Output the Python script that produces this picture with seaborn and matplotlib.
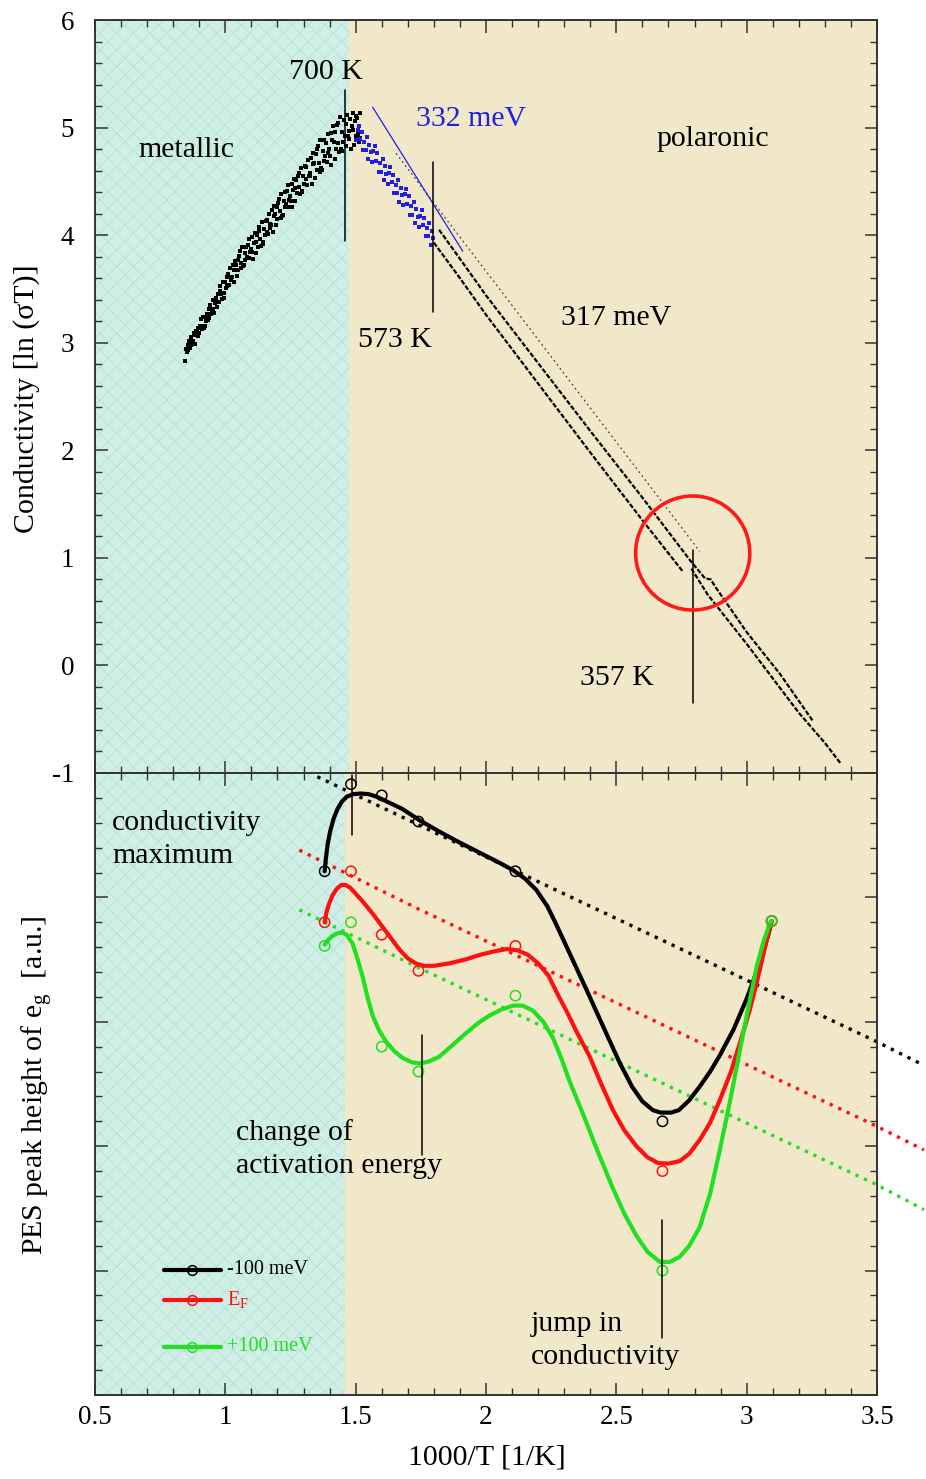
import numpy as np
import pandas as pd
import matplotlib
matplotlib.use("Agg")
import matplotlib.pyplot as plt
from matplotlib.patches import Ellipse
from matplotlib.ticker import MultipleLocator, FuncFormatter
import seaborn as sns

# ---------------- top panel data: conductivity ----------------
metal_x = [
    0.846, 0.849, 0.852, 0.855, 0.858, 0.861, 0.864, 0.867, 0.870, 0.873,
    0.876, 0.879, 0.882, 0.885, 0.888, 0.891, 0.894, 0.897, 0.900, 0.903,
    0.906, 0.909, 0.912, 0.915, 0.918, 0.921, 0.924, 0.927, 0.930, 0.933,
    0.936, 0.939, 0.942, 0.945, 0.948, 0.951, 0.954, 0.957, 0.960, 0.963,
    0.966, 0.969, 0.972, 0.975, 0.978, 0.981, 0.984, 0.987, 0.990, 0.993,
    0.996, 0.999, 1.002, 1.005, 1.008, 1.011, 1.014, 1.017, 1.020, 1.023,
    1.026, 1.029, 1.032, 1.035, 1.038, 1.041, 1.044, 1.047, 1.050, 1.053,
    1.056, 1.059, 1.062, 1.065, 1.068, 1.071, 1.074, 1.077, 1.080, 1.083,
    1.086, 1.089, 1.092, 1.095, 1.098, 1.101, 1.104, 1.107, 1.110, 1.113,
    1.116, 1.119, 1.122, 1.125, 1.128, 1.131, 1.134, 1.137, 1.140, 1.143,
    1.146, 1.149, 1.152, 1.155, 1.158, 1.161, 1.164, 1.167, 1.170, 1.173,
    1.176, 1.179, 1.182, 1.185, 1.188, 1.191, 1.194, 1.197, 1.200, 1.203,
    1.206, 1.209, 1.212, 1.215, 1.218, 1.221, 1.224, 1.227, 1.230, 1.233,
    1.236, 1.239, 1.242, 1.245, 1.248, 1.251, 1.254, 1.257, 1.260, 1.263,
    1.266, 1.269, 1.272, 1.275, 1.278, 1.281, 1.284, 1.287, 1.290, 1.293,
    1.296, 1.299, 1.302, 1.305, 1.308, 1.311, 1.314, 1.317, 1.320, 1.323,
    1.326, 1.329, 1.332, 1.335, 1.338, 1.341, 1.344, 1.347, 1.350, 1.353,
    1.356, 1.359, 1.362, 1.365, 1.368, 1.371, 1.374, 1.377, 1.380, 1.383,
    1.386, 1.389, 1.392, 1.395, 1.398, 1.401, 1.404, 1.407, 1.410, 1.413,
    1.416, 1.419, 1.422, 1.425, 1.428, 1.431, 1.434, 1.437, 1.440, 1.443,
    1.446, 1.449, 1.452, 1.455, 1.458, 1.461, 1.464, 1.467, 1.470, 1.473,
    1.476, 1.479, 1.482, 1.485, 1.488, 1.491, 1.494, 1.497, 1.500, 1.503,
    1.506, 1.509, 1.512, 1.515, 1.518,
]
metal_y = [
    2.83, 2.94, 2.91, 2.98, 2.93, 3.02, 2.95, 3.05, 2.98, 3.00,
    3.02, 3.09, 2.99, 3.07, 3.11, 3.11, 3.06, 3.14, 3.09, 3.16,
    3.22, 3.16, 3.13, 3.24, 3.14, 3.16, 3.23, 3.20, 3.27, 3.21,
    3.31, 3.23, 3.35, 3.27, 3.29, 3.31, 3.40, 3.28, 3.37, 3.42,
    3.41, 3.33, 3.45, 3.38, 3.48, 3.53, 3.45, 3.41, 3.56, 3.42,
    3.46, 3.56, 3.51, 3.61, 3.53, 3.64, 3.54, 3.69, 3.58, 3.61,
    3.61, 3.72, 3.56, 3.68, 3.76, 3.72, 3.62, 3.77, 3.68, 3.81,
    3.85, 3.74, 3.69, 3.89, 3.71, 3.72, 3.83, 3.77, 3.89, 3.80,
    3.91, 3.79, 3.96, 3.84, 3.87, 3.84, 3.98, 3.78, 3.93, 4.02,
    3.94, 3.83, 4.00, 3.89, 4.04, 4.08, 3.96, 3.90, 4.12, 3.92,
    3.94, 4.06, 4.00, 4.13, 4.03, 4.14, 4.01, 4.20, 4.07, 4.10,
    4.09, 4.23, 4.03, 4.18, 4.27, 4.20, 4.09, 4.26, 4.15, 4.30,
    4.34, 4.22, 4.16, 4.38, 4.18, 4.19, 4.32, 4.26, 4.40, 4.29,
    4.41, 4.26, 4.47, 4.33, 4.36, 4.32, 4.48, 4.26, 4.42, 4.52,
    4.44, 4.32, 4.51, 4.39, 4.55, 4.58, 4.45, 4.38, 4.62, 4.40,
    4.41, 4.55, 4.48, 4.64, 4.52, 4.63, 4.47, 4.70, 4.55, 4.58,
    4.55, 4.72, 4.48, 4.66, 4.76, 4.67, 4.53, 4.75, 4.61, 4.80,
    4.83, 4.67, 4.59, 4.88, 4.62, 4.61, 4.78, 4.69, 4.88, 4.74,
    4.86, 4.68, 4.94, 4.76, 4.80, 4.74, 4.95, 4.65, 4.88, 5.01,
    4.87, 4.71, 4.96, 4.80, 5.02, 5.04, 4.86, 4.77, 5.10, 4.80,
    4.78, 4.96, 4.87, 5.07, 4.92, 5.03, 4.83, 5.12, 4.92, 4.97,
    4.89, 5.08, 4.80, 5.01, 5.14, 4.98, 4.84, 5.06, 4.92, 5.11,
    5.09, 4.94, 4.87, 5.14, 4.90,
]

blue_x = [
    1.503, 1.508, 1.513, 1.518, 1.523, 1.528, 1.533, 1.538, 1.543, 1.548,
    1.553, 1.558, 1.563, 1.568, 1.573, 1.578, 1.583, 1.588, 1.593, 1.598,
    1.603, 1.608, 1.613, 1.618, 1.623, 1.628, 1.633, 1.638, 1.643, 1.648,
    1.653, 1.658, 1.663, 1.668, 1.673, 1.678, 1.683, 1.688, 1.693, 1.698,
    1.703, 1.708, 1.713, 1.718, 1.723, 1.728, 1.733, 1.738, 1.743, 1.748,
    1.753, 1.758, 1.763, 1.768, 1.773, 1.778, 1.783, 1.788, 1.793, 1.798,
]
blue_y = [
    4.88, 4.98, 5.01, 4.89, 4.96, 4.79, 4.87, 4.79, 4.91, 4.71,
    4.84, 4.77, 4.68, 4.78, 4.83, 4.69, 4.76, 4.59, 4.67, 4.59,
    4.71, 4.51, 4.64, 4.57, 4.48, 4.58, 4.63, 4.49, 4.56, 4.39,
    4.47, 4.39, 4.51, 4.31, 4.44, 4.37, 4.28, 4.38, 4.43, 4.29,
    4.36, 4.19, 4.27, 4.19, 4.31, 4.11, 4.24, 4.17, 4.08, 4.18,
    4.23, 4.09, 4.16, 3.99, 4.07, 3.99, 4.11, 3.91, 4.04, 3.97,
]

line_a_x = [1.800, 1.900, 2.000, 2.200, 2.400, 2.600, 2.756]
line_a_y = [3.93, 3.60, 3.26, 2.62, 1.98, 1.35, 0.87]
line_b_x = [1.820, 1.900, 2.000, 2.200, 2.400, 2.600, 2.782, 2.840,
            2.862, 2.880, 3.000, 3.128, 3.255]
line_b_y = [4.05, 3.78, 3.44, 2.81, 2.18, 1.56, 0.98, 0.81,
            0.80, 0.73, 0.31, -0.08, -0.52]
line_c_x = [2.788, 2.850, 3.000, 3.100, 3.200, 3.300, 3.360]
line_c_y = [0.90, 0.66, 0.20, -0.12, -0.44, -0.72, -0.91]

fit317_x = [1.655, 2.820]
fit317_y = [4.76, 1.06]
fit332_x = [1.565, 1.911]
fit332_y = [5.19, 3.85]

# ---------------- bottom panel data: PES peak height ----------------
pes_x = [1.381, 1.482, 1.600, 1.741, 2.113, 2.677, 3.096]
pes_minus = [4.21, 4.91, 4.82, 4.61, 4.21, 2.20, 3.81]
pes_ef = [3.80, 4.21, 3.70, 3.41, 3.61, 1.80, 3.81]
pes_plus = [3.61, 3.80, 2.80, 2.60, 3.21, 1.00, 3.81]

black_curve_x = [1.381, 1.385, 1.392, 1.402, 1.415, 1.430, 1.447, 1.466, 1.490,
                 1.520, 1.550, 1.580, 1.610, 1.640, 1.680, 1.745, 1.820, 1.900,
                 1.975, 2.050, 2.103, 2.150, 2.193, 2.235, 2.270, 2.321, 2.385,
                 2.450, 2.513, 2.560, 2.600, 2.640, 2.670, 2.710, 2.740, 2.780,
                 2.820, 2.860, 2.897, 2.950, 2.999, 3.050, 3.083, 3.096]
black_curve_y = [4.21, 4.30, 4.42, 4.53, 4.63, 4.71, 4.77, 4.81, 4.83,
                 4.835, 4.83, 4.81, 4.78, 4.75, 4.71, 4.62, 4.53, 4.44,
                 4.36, 4.28, 4.22, 4.15, 4.06, 3.93, 3.78, 3.55, 3.26,
                 2.96, 2.67, 2.48, 2.36, 2.29, 2.27, 2.27, 2.29, 2.37,
                 2.48, 2.60, 2.73, 2.94, 3.18, 3.47, 3.70, 3.81]
red_curve_x = [1.381, 1.388, 1.398, 1.412, 1.428, 1.445, 1.460, 1.478, 1.500,
               1.530, 1.565, 1.604, 1.640, 1.668, 1.700, 1.730, 1.760, 1.800,
               1.860, 1.920, 1.980, 2.040, 2.080, 2.120, 2.160, 2.200, 2.240,
               2.280, 2.308, 2.350, 2.398, 2.440, 2.487, 2.530, 2.577, 2.620,
               2.660, 2.700, 2.743, 2.780, 2.820, 2.860, 2.897, 2.940, 2.974,
               3.010, 3.038, 3.065, 3.083, 3.096]
red_curve_y = [3.80, 3.88, 3.95, 4.02, 4.07, 4.10, 4.10, 4.08, 4.03,
               3.96, 3.87, 3.76, 3.66, 3.58, 3.51, 3.47, 3.45, 3.45,
               3.47, 3.50, 3.54, 3.57, 3.585, 3.575, 3.54, 3.47, 3.37,
               3.20, 3.09, 2.91, 2.72, 2.51, 2.29, 2.13, 2.00, 1.91,
               1.865, 1.86, 1.88, 1.94, 2.05, 2.19, 2.37, 2.60, 2.83,
               3.08, 3.31, 3.55, 3.71, 3.81]
green_curve_x = [1.381, 1.395, 1.411, 1.428, 1.446, 1.465, 1.488, 1.508, 1.527,
                 1.545, 1.565, 1.590, 1.617, 1.650, 1.680, 1.715, 1.745, 1.780,
                 1.821, 1.870, 1.924, 1.970, 2.013, 2.060, 2.103, 2.140, 2.180,
                 2.220, 2.257, 2.290, 2.321, 2.372, 2.430, 2.487, 2.530, 2.577,
                 2.620, 2.667, 2.705, 2.743, 2.780, 2.820, 2.860, 2.897, 2.935,
                 2.974, 3.005, 3.038, 3.065, 3.089, 3.096]
green_curve_y = [3.62, 3.66, 3.69, 3.71, 3.72, 3.70, 3.63, 3.50, 3.36,
                 3.20, 3.05, 2.93, 2.84, 2.76, 2.71, 2.675, 2.665, 2.68,
                 2.72, 2.81, 2.91, 2.99, 3.05, 3.10, 3.13, 3.13, 3.09,
                 3.00, 2.87, 2.70, 2.52, 2.26, 1.95, 1.66, 1.46, 1.28,
                 1.15, 1.07, 1.07, 1.11, 1.20, 1.35, 1.62, 1.97, 2.35,
                 2.77, 3.10, 3.44, 3.65, 3.79, 3.81]

black_fit_x = [1.353, 2.116, 2.692, 3.499, 3.680]
black_fit_y = [4.97, 4.21, 3.64, 2.84, 2.65]
red_fit_x = [1.284, 1.738, 3.499, 3.680]
red_fit_y = [4.38, 3.91, 2.16, 1.97]
green_fit_x = [1.284, 1.757, 3.499, 3.680]
green_fit_y = [3.90, 3.42, 1.69, 1.49]

legend_labels = ["-100 meV", r"E$_{\mathrm{F}}$", "+100 meV"]
x_tick_values = [0.5, 1, 1.5, 2, 2.5, 3, 3.5]

# ---------------- style ----------------
sns.set_theme(style="ticks")
plt.rcParams["font.family"] = ["Liberation Serif", "DejaVu Serif"]
plt.rcParams["mathtext.fontset"] = "custom"
plt.rcParams["mathtext.rm"] = "Liberation Serif"
plt.rcParams["mathtext.it"] = "Liberation Serif:italic"
plt.rcParams["axes.unicode_minus"] = False
plt.rcParams["hatch.linewidth"] = 0.6
plt.rcParams["text.color"] = "black"
plt.rcParams["axes.labelcolor"] = "black"

CYAN = "#ceeee6"
HATCH = "#b6e2d6"
BEIGE = "#f1e8ca"
FRAME = "#333333"
BLUE = "#2020e0"
RED = "#ff1010"
GREEN = "#20e020"

fig = plt.figure(figsize=(9.26, 14.79), dpi=100)
W, H = 926.0, 1479.0
ax1 = fig.add_axes([95 / W, 1 - 773 / H, 782 / W, 753 / H])
ax2 = fig.add_axes([95 / W, 1 - 1395 / H, 782 / W, 622 / H])

fmt = FuncFormatter(lambda v, p: f"{v:g}")


def style_axes(ax, ylo, yhi):
    ax.set_xlim(0.5, 3.5)
    ax.set_ylim(ylo, yhi)
    ax.xaxis.set_major_locator(MultipleLocator(0.5))
    ax.xaxis.set_minor_locator(MultipleLocator(0.1))
    ax.yaxis.set_major_locator(MultipleLocator(1))
    ax.yaxis.set_minor_locator(MultipleLocator(0.2))
    ax.xaxis.set_major_formatter(fmt)
    ax.yaxis.set_major_formatter(fmt)
    ax.tick_params(which="both", direction="in", top=True, right=True,
                   color=FRAME, labelsize=19.5, labelcolor="black")
    ax.tick_params(which="major", length=9, width=1.1)
    ax.tick_params(which="minor", length=5, width=1.0)
    ax.tick_params(axis="x", pad=7)
    ax.tick_params(axis="y", pad=15)
    for s in ax.spines.values():
        s.set_linewidth(1.4)
        s.set_color(FRAME)
        s.set_zorder(10)


style_axes(ax1, -1, 6)
style_axes(ax2, 0, 5)
ax1.tick_params(labelbottom=False)
ax2.tick_params(labelleft=False)

# backgrounds
ax1.axvspan(0.5, 1.476, facecolor=CYAN, edgecolor=HATCH, hatch="xx", lw=0, zorder=0)
ax1.axvspan(1.476, 3.5, facecolor=BEIGE, lw=0, zorder=0)
ax2.axvspan(0.5, 1.460, facecolor=CYAN, edgecolor=HATCH, hatch="xx", lw=0, zorder=0)
ax2.axvspan(1.460, 3.5, facecolor=BEIGE, lw=0, zorder=0)

# ---------------- top panel ----------------
sns.scatterplot(x=metal_x, y=metal_y, ax=ax1, color="black", marker="s",
                s=9, linewidth=0, zorder=3)
sns.scatterplot(x=blue_x, y=blue_y, ax=ax1, color=BLUE, marker="s",
                s=7, linewidth=0, zorder=3)
for lx, ly in [(line_a_x, line_a_y), (line_b_x, line_b_y), (line_c_x, line_c_y)]:
    sns.lineplot(x=lx, y=ly, ax=ax1, sort=False, estimator=None, color="black",
                 lw=1.6, linestyle=(0, (2.2, 0.8)), zorder=3)
sns.lineplot(x=fit317_x, y=fit317_y, ax=ax1, sort=False, estimator=None,
             color="#444444", lw=0.9, linestyle=(0, (1.5, 2.5)), zorder=3)
sns.lineplot(x=fit332_x, y=fit332_y, ax=ax1, sort=False, estimator=None,
             color=BLUE, lw=0.9, zorder=3)

# temperature marker lines
ax1.plot([1.460, 1.460], [3.95, 5.35], color="black", lw=1.1, zorder=4)
ax1.plot([1.795, 1.795], [3.29, 4.68], color="black", lw=1.1, zorder=4)
ax1.plot([2.793, 2.793], [-0.35, 1.07], color="black", lw=1.1, zorder=4)
ax1.add_patch(Ellipse((2.793, 1.045), 0.438, 1.06, fill=False,
                      edgecolor="#ff1a1a", lw=2.6, zorder=5))

tfs = 21.5
ax1.text(1.385, 5.52, "700 K", fontsize=tfs, ha="center", va="center")
ax1.text(0.850, 4.79, "metallic", fontsize=tfs, ha="center", va="center")
ax1.text(1.944, 5.08, "332 meV", fontsize=tfs, ha="center", va="center", color=BLUE)
ax1.text(2.870, 4.89, "polaronic", fontsize=tfs, ha="center", va="center")
ax1.text(1.652, 3.025, "573 K", fontsize=tfs, ha="center", va="center")
ax1.text(2.501, 3.23, "317 meV", fontsize=tfs, ha="center", va="center")
ax1.text(2.501, -0.117, "357 K", fontsize=tfs, ha="center", va="center")

ax1.set_ylabel("Conductivity [ln (σT)]", fontsize=21.5, va="center", color="black")
ax1.yaxis.set_label_coords(-0.087, 0.497)
ax1.set_xlabel("")

# ---------------- bottom panel ----------------
for fx, fy, c in [(black_fit_x, black_fit_y, "black"),
                  (red_fit_x, red_fit_y, RED),
                  (green_fit_x, green_fit_y, GREEN)]:
    sns.lineplot(x=fx, y=fy, ax=ax2, sort=False, estimator=None, color=c,
                 lw=2.4, linestyle=(0, (1, 1.8)), zorder=3)
    ax2.lines[-1].set_clip_on(False)

for cx, cy, c in [(black_curve_x, black_curve_y, "black"),
                  (red_curve_x, red_curve_y, RED),
                  (green_curve_x, green_curve_y, GREEN)]:
    sns.lineplot(x=cx, y=cy, ax=ax2, sort=False, estimator=None, color=c,
                 lw=3.0, zorder=4)
    ax2.lines[-1].set_solid_joinstyle("round")

for py, c in [(pes_minus, "black"), (pes_ef, RED), (pes_plus, GREEN)]:
    sns.scatterplot(x=pes_x, y=py, ax=ax2, marker="o", s=55,
                    facecolor="none", edgecolor=c, linewidth=1.1, zorder=5)

ax2.plot([1.485, 1.485], [4.50, 4.98], color="black", lw=1.1, zorder=6)
ax2.plot([1.753, 1.753], [1.93, 2.89], color="black", lw=1.1, zorder=6)
ax2.plot([2.677, 2.677], [0.46, 1.41], color="black", lw=1.1, zorder=6)

ax2.text(0.565, 4.465, "conductivity\nmaximum", fontsize=tfs, ha="left",
         va="center", linespacing=1.35)
ax2.text(1.042, 1.98, "change of\nactivation energy", fontsize=tfs, ha="left",
         va="center", linespacing=1.35)
ax2.text(2.171, 0.442, "jump in\nconductivity", fontsize=tfs, ha="left",
         va="center", linespacing=1.35)

# legend drawn inside the panel
leg_y = [1.005, 0.764, 0.386]
for lab, ly, c in zip(legend_labels, leg_y, ["black", RED, GREEN]):
    ax2.plot([0.765, 0.985], [ly, ly], color=c, lw=3.0, zorder=6)
    ax2.plot([0.873], [ly], marker="o", ms=7, mfc="none", mec=c, mew=1.1, zorder=7)
    ax2.text(1.007, ly, lab, fontsize=14.5, color=c, ha="left", va="center")

ax2.set_xticks(x_tick_values)
ax2.set_ylabel("")
ax2.set_xlabel("1000/T [1/K]", fontsize=21.5, va="center", color="black")
ax2.xaxis.set_label_coords(0.501, -0.101)
fig.text(38 / W, 1 - 1085 / H, r"PES peak height of e$_{\mathrm{g}}$  [a.u.]",
         fontsize=21.5, rotation=90, ha="center", va="center", color="black")

fig.savefig("out.png", dpi=100, facecolor="white")
